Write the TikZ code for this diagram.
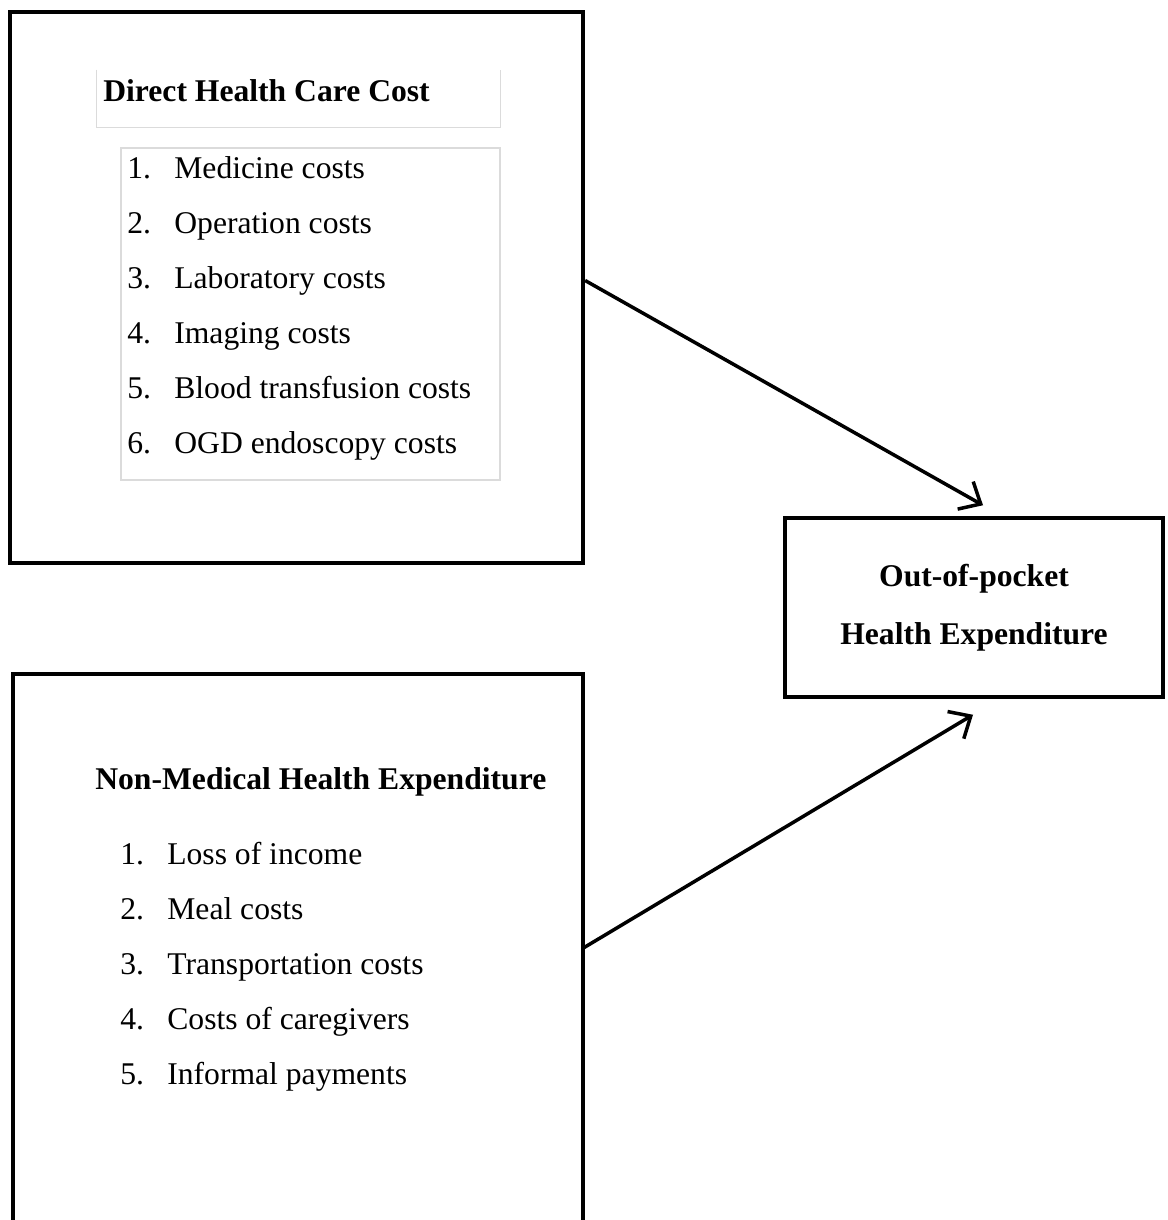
\documentclass[tikz,border=0pt]{standalone}
\usepackage{fontspec}
\setmainfont{Liberation Serif}
\usetikzlibrary{arrows.meta,fit,calc}

\begin{document}
\begin{tikzpicture}[x=0.02cm,y=-0.02cm,
		bigbox/.style={draw,line width=2.4pt,inner sep=0pt},
		greybox/.style={draw=black!14,line width=0.6pt},
		heading/.style={font=\fontsize{18}{22}\selectfont\bfseries,anchor=base west,inner sep=0pt},
		item/.style={font=\fontsize{18}{22}\selectfont,anchor=base west,inner sep=0pt},
		flow/.style={line width=2pt,-{Straight Barb[length=10pt,width=18pt]}}]
		\useasboundingbox (0,0) rectangle (1168,1220);
		% direct costs
		\coordinate (dNW) at (10,12);
		\coordinate (dSE) at (583,563);
		\node[bigbox,fit=(dNW)(dSE)] (dhc) {};
		\coordinate (tNW) at (97,70);
		\coordinate (tSE) at (500,127);
		\node[inner sep=0pt,fit=(tNW)(tSE)] (dhcTitle) {};
		\draw[greybox] (dhcTitle.north west) -- (dhcTitle.south west) -- (dhcTitle.south east) -- (dhcTitle.north east);
		\node[heading] (dhcHead) at (103,102) {Direct Health Care Cost};
		\coordinate (lNW) at (121,148);
		\coordinate (lSE) at (500,480);
		\node[greybox,inner sep=0pt,fit=(lNW)(lSE)] (dhcList) {};
		\foreach \txt [count=\i] in {Medicine costs,Operation costs,Laboratory costs,Imaging costs,Blood transfusion costs,OGD endoscopy costs} {
			\node[item] (dn\i) at (127,123+55*\i) {\i.};
			\node[item] (dt\i) at (174,123+55*\i) {\txt};
		}
		% non-medical costs
		\coordinate (nNW) at (13,674);
		\coordinate (nSE) at (583,1222);
		\node[inner sep=0pt,fit=(nNW)(nSE)] (nmh) {};
		\draw[line width=2.4pt] (nmh.south west) -- (nmh.north west) -- (nmh.north east) -- (nmh.south east);
		\node[heading] (nmhHead) at (95,789) {Non-Medical Health Expenditure};
		\foreach \txt [count=\i] in {Loss of income,Meal costs,Transportation costs,Costs of caregivers,Informal payments} {
			\node[item] (nn\i) at (120,809+55*\i) {\i.};
			\node[item] (nt\i) at (167,809+55*\i) {\txt};
		}
		% outcome
		\node[draw,line width=2pt,minimum width=7.56cm,minimum height=3.58cm,align=center,
			font=\fontsize{18}{33}\selectfont\bfseries] (oop) at (974,607.5) {Out-of-pocket\\Health Expenditure};
		\draw[flow] ($(dhc.east)+(0,-7)$) -- ($(oop.north)+(9,-11)$);
		\draw[flow] (nmh.east) -- ($(oop.south)+(-1,16)$);
	\end{tikzpicture}
\end{document}
